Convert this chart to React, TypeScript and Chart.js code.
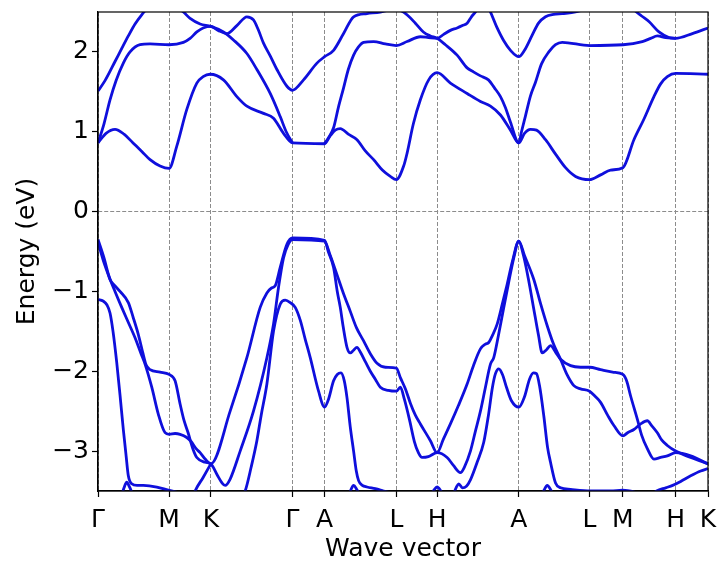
import React, { useEffect, useRef } from "react";
import { Chart, registerables } from "chart.js";

Chart.register(...registerables);

// High-symmetry points along the k-path (path length units)
const kTickValues = [0, 0.71, 1.127, 1.943, 2.263, 2.98, 3.387, 4.203, 4.91, 5.243, 5.77, 6.093];
const kTickLabels = ["Γ", "M", "K", "Γ", "A", "L", "H", "A", "L", "M", "H", "K"];
const energyTicks = [-3, -2, -1, 0, 1, 2];

// Band curves: [k, energy (eV)]
const cbLowest: number[][] = [
  [0, 0.86], [0.08, 0.98], [0.17, 1.03], [0.26, 0.97], [0.35, 0.86], [0.44, 0.75], [0.52, 0.65], [0.62, 0.57], [0.71, 0.54],
  [0.787, 0.82], [0.887, 1.28], [0.987, 1.61], [1.05, 1.69], [1.12, 1.72], [1.253, 1.65], [1.387, 1.44], [1.487, 1.32],
  [1.653, 1.23], [1.753, 1.17], [1.853, 0.98], [1.943, 0.86], [2.263, 0.85], [2.32, 0.95], [2.37, 1.02], [2.42, 1.04],
  [2.5, 0.97], [2.587, 0.9], [2.67, 0.76], [2.753, 0.65], [2.84, 0.52], [2.92, 0.44], [2.98, 0.4], [3.053, 0.57],
  [3.087, 0.73], [3.15, 1.1], [3.22, 1.4], [3.303, 1.65], [3.387, 1.74], [3.52, 1.61], [3.687, 1.48], [3.82, 1.38],
  [3.92, 1.32], [4.02, 1.21], [4.12, 1.02], [4.203, 0.86], [4.26, 0.98], [4.32, 1.03], [4.38, 1.02], [4.47, 0.9],
  [4.57, 0.72], [4.67, 0.55], [4.77, 0.44], [4.91, 0.4], [5.02, 0.46], [5.12, 0.52], [5.243, 0.55], [5.353, 0.9],
  [5.45, 1.15], [5.553, 1.44], [5.62, 1.6], [5.687, 1.69], [5.77, 1.73], [6.093, 1.72],
];

const cbSecond: number[][] = [
  [0, 0.86], [0.06, 1.1], [0.12, 1.4], [0.18, 1.64], [0.253, 1.86], [0.32, 2.0], [0.42, 2.09], [0.52, 2.1], [0.71, 2.09],
  [0.853, 2.12], [0.92, 2.17], [0.987, 2.25], [1.05, 2.3], [1.127, 2.32], [1.2, 2.27], [1.287, 2.23], [1.387, 2.33],
  [1.487, 2.44], [1.553, 2.4], [1.6, 2.28], [1.653, 2.11], [1.72, 1.95], [1.787, 1.78], [1.887, 1.57], [1.943, 1.52],
  [2.053, 1.65], [2.187, 1.86], [2.263, 1.94], [2.353, 2.02], [2.453, 2.23], [2.553, 2.44], [2.687, 2.48], [2.82, 2.5],
  [2.94, 2.53], [3.02, 2.52], [3.1, 2.45], [3.17, 2.36], [3.25, 2.25], [3.32, 2.2], [3.387, 2.17], [3.47, 2.09],
  [3.587, 1.96], [3.687, 1.8], [3.75, 1.75], [3.82, 1.7], [3.9, 1.65], [3.96, 1.55], [4.02, 1.44], [4.07, 1.3],
  [4.12, 1.12], [4.203, 0.86], [4.23, 1.0], [4.27, 1.2], [4.32, 1.45], [4.37, 1.62], [4.43, 1.85], [4.503, 2.0],
  [4.57, 2.09], [4.637, 2.12], [4.91, 2.08], [5.243, 2.09], [5.437, 2.13], [5.52, 2.17], [5.587, 2.2], [5.67, 2.18],
  [5.77, 2.17], [5.937, 2.23], [6.093, 2.3],
];

const cbGammaUpper: number[][] = [
  [0, 1.51], [0.07, 1.64], [0.17, 1.88], [0.24, 2.05], [0.303, 2.2], [0.37, 2.35], [0.44, 2.47], [0.5, 2.56], [0.57, 2.65],
];

const cbKDown: number[][] = [
  [0.67, 2.72], [0.77, 2.58], [0.853, 2.5], [0.92, 2.42], [1.02, 2.35], [1.127, 2.32], [1.253, 2.25], [1.353, 2.15],
  [1.487, 1.98], [1.587, 1.78], [1.72, 1.48], [1.82, 1.19], [1.88, 1.0], [1.943, 0.86],
];

const cbAPlateau: number[][] = [
  [2.263, 0.85], [2.3, 0.92], [2.353, 1.05], [2.4, 1.3], [2.453, 1.55], [2.5, 1.78], [2.553, 1.96], [2.6, 2.06],
  [2.653, 2.12], [2.753, 2.13], [2.87, 2.1], [2.98, 2.08], [3.087, 2.13], [3.22, 2.19], [3.3, 2.18], [3.387, 2.17],
  [3.453, 2.22], [3.52, 2.27], [3.587, 2.3], [3.64, 2.33], [3.687, 2.36], [3.73, 2.44], [3.77, 2.5], [3.82, 2.6],
];

const cbAValley: number[][] = [
  [3.87, 2.62], [3.92, 2.5], [3.98, 2.32], [4.053, 2.14], [4.12, 2.02], [4.203, 1.94], [4.26, 2.02], [4.337, 2.21],
  [4.4, 2.36], [4.47, 2.44], [4.55, 2.47], [4.637, 2.48], [4.77, 2.5], [4.92, 2.56],
];

const cbMHDown: number[][] = [
  [5.22, 2.7], [5.32, 2.58], [5.37, 2.51], [5.43, 2.45], [5.503, 2.38], [5.603, 2.25], [5.703, 2.18], [5.77, 2.17],
];

const vbTop1: number[][] = [
  [0, -0.35], [0.06, -0.58], [0.12, -0.85], [0.17, -0.93], [0.22, -1.0], [0.303, -1.14], [0.35, -1.32], [0.403, -1.54],
  [0.45, -1.78], [0.48, -1.92], [0.52, -1.98], [0.62, -2.01], [0.71, -2.04], [0.77, -2.12], [0.82, -2.41], [0.86, -2.62],
  [0.9, -2.77], [0.95, -2.98], [0.987, -3.08], [1.07, -3.14], [1.127, -3.16], [1.187, -3.29], [1.24, -3.4], [1.27, -3.43],
  [1.32, -3.35], [1.42, -3.0], [1.553, -2.5], [1.687, -1.83], [1.753, -1.41], [1.803, -0.95], [1.853, -0.58],
  [1.9, -0.41], [1.943, -0.35], [2.263, -0.37], [2.32, -0.55], [2.387, -0.79], [2.45, -1.02], [2.52, -1.25],
  [2.58, -1.45], [2.653, -1.62], [2.72, -1.78], [2.787, -1.9], [2.87, -1.95], [2.98, -1.96], [3.02, -2.08],
  [3.07, -2.22], [3.12, -2.4], [3.17, -2.55], [3.22, -2.66], [3.32, -2.87], [3.387, -3.02], [3.45, -2.85],
  [3.52, -2.66], [3.6, -2.43], [3.687, -2.16], [3.75, -1.93], [3.82, -1.72], [3.87, -1.66], [3.903, -1.64],
  [3.94, -1.55], [3.987, -1.41], [4.04, -1.15], [4.087, -0.91], [4.14, -0.62], [4.203, -0.37], [4.25, -0.55],
  [4.3, -0.85], [4.35, -1.2], [4.4, -1.55], [4.437, -1.77], [4.48, -1.73], [4.52, -1.68], [4.57, -1.76], [4.62, -1.85],
  [4.72, -1.93], [4.82, -1.95], [4.91, -1.95], [5.02, -1.98], [5.14, -2.01], [5.243, -2.04], [5.28, -2.12],
  [5.32, -2.31], [5.387, -2.6], [5.43, -2.8], [5.487, -2.97], [5.553, -3.1], [5.62, -3.08], [5.687, -3.06],
  [5.77, -3.02], [5.92, -3.06], [6.093, -3.16],
];

const vbTop2: number[][] = [
  [0, -0.38], [0.05, -0.6], [0.103, -0.79], [0.17, -1.0], [0.237, -1.2], [0.3, -1.38], [0.37, -1.58], [0.43, -1.78],
  [0.47, -1.91], [0.537, -2.2], [0.603, -2.54], [0.67, -2.77], [0.71, -2.79], [0.77, -2.78], [0.82, -2.79],
  [0.887, -2.83], [0.93, -2.88], [0.98, -2.97], [1.02, -3.02], [1.07, -3.1], [1.127, -3.16], [1.32, -2.5],
  [1.487, -1.83], [1.62, -1.2], [1.687, -1.02], [1.73, -0.96], [1.77, -0.93], [1.82, -0.7], [1.887, -0.41],
  [1.943, -0.33], [2.263, -0.36], [2.3, -0.5], [2.353, -0.7], [2.39, -1.0], [2.42, -1.2], [2.45, -1.45], [2.487, -1.7],
  [2.52, -1.77], [2.55, -1.74], [2.587, -1.7], [2.62, -1.76], [2.67, -1.88], [2.72, -2.0], [2.77, -2.1], [2.82, -2.2],
  [2.9, -2.24], [2.98, -2.25], [3.02, -2.2], [3.06, -2.35], [3.11, -2.6], [3.16, -2.88], [3.2, -3.02], [3.237, -3.08],
  [3.3, -3.07], [3.387, -3.02], [3.487, -3.08], [3.55, -3.18], [3.62, -3.27], [3.66, -3.2], [3.72, -3.0],
  [3.77, -2.75], [3.82, -2.5], [3.87, -2.2], [3.92, -1.91], [3.953, -1.83], [4.0, -1.55], [4.053, -1.2], [4.1, -0.9],
  [4.153, -0.58], [4.203, -0.37], [4.26, -0.55], [4.353, -0.85], [4.42, -1.15], [4.487, -1.43], [4.55, -1.66],
  [4.62, -1.85], [4.68, -2.03], [4.753, -2.18], [4.82, -2.22], [4.91, -2.25], [4.97, -2.32], [5.02, -2.39],
  [5.09, -2.55], [5.153, -2.68], [5.243, -2.81], [5.29, -2.77], [5.353, -2.73], [5.42, -2.66], [5.487, -2.62],
  [5.53, -2.68], [5.587, -2.77], [5.63, -2.86], [5.687, -2.93], [5.77, -3.0], [5.92, -3.08], [6.093, -3.16],
];

const vbKCross: number[][] = [
  [0.92, -3.68], [0.97, -3.5], [1.05, -3.33], [1.127, -3.16],
];

const vbGammaLow: number[][] = [
  [0, -1.1], [0.05, -1.12], [0.09, -1.17], [0.12, -1.27], [0.15, -1.5], [0.187, -1.89], [0.22, -2.3], [0.253, -2.73],
  [0.28, -3.05], [0.303, -3.31], [0.337, -3.41], [0.39, -3.43], [0.453, -3.43], [0.587, -3.45], [0.703, -3.49],
  [0.8, -3.52], [0.92, -3.56],
];

const vbMidLow: number[][] = [
  [1.4, -3.65], [1.47, -3.5], [1.53, -3.2], [1.587, -2.87], [1.63, -2.55], [1.687, -2.16], [1.753, -1.5], [1.82, -1.16],
  [1.87, -1.11], [1.92, -1.14], [1.97, -1.2], [2.02, -1.36], [2.07, -1.6], [2.12, -1.83], [2.203, -2.25], [2.263, -2.45],
  [2.3, -2.36], [2.353, -2.12], [2.39, -2.04], [2.427, -2.02], [2.46, -2.12], [2.487, -2.33], [2.52, -2.7],
  [2.553, -3.0], [2.58, -3.25], [2.603, -3.37], [2.64, -3.43], [2.687, -3.45], [2.77, -3.47], [2.853, -3.5],
  [2.94, -3.53], [3.02, -3.57],
];

const vbRightLow: number[][] = [
  [3.54, -3.58], [3.58, -3.45], [3.603, -3.41], [3.64, -3.46], [3.68, -3.44], [3.72, -3.36], [3.787, -3.14],
  [3.853, -2.89], [3.9, -2.55], [3.94, -2.2], [3.97, -2.03], [4.003, -1.97], [4.04, -2.04], [4.08, -2.2], [4.13, -2.37],
  [4.203, -2.45], [4.26, -2.32], [4.31, -2.1], [4.35, -2.02], [4.38, -2.03], [4.41, -2.18], [4.453, -2.56],
  [4.49, -2.95], [4.52, -3.14], [4.57, -3.4], [4.62, -3.46], [4.72, -3.48], [4.92, -3.5], [5.12, -3.5], [5.24, -3.49],
  [5.42, -3.53],
];

const vbBump1: number[][] = [[0.23, -3.58], [0.26, -3.46], [0.287, -3.39], [0.315, -3.45], [0.34, -3.52]];
const vbBump2: number[][] = [[2.49, -3.58], [2.52, -3.5], [2.553, -3.43], [2.585, -3.48], [2.62, -3.56]];
const vbBump3: number[][] = [[3.32, -3.56], [3.355, -3.49], [3.387, -3.45], [3.42, -3.49], [3.45, -3.56]];
const vbBump4: number[][] = [[4.42, -3.58], [4.455, -3.49], [4.487, -3.43], [4.52, -3.48], [4.55, -3.56]];
const vbRightRise: number[][] = [
  [5.5, -3.58], [5.58, -3.5], [5.67, -3.46], [5.74, -3.43], [5.82, -3.38], [5.92, -3.31], [6.02, -3.25], [6.093, -3.22],
];

const bands = [
  cbLowest, cbSecond, cbGammaUpper, cbKDown, cbAPlateau, cbAValley, cbMHDown,
  vbTop1, vbTop2, vbKCross, vbGammaLow, vbMidLow, vbRightLow,
  vbBump1, vbBump2, vbBump3, vbBump4, vbRightRise,
];

const BAND_COLOR = "#0f0fdc";
const FONT = "'DejaVu Sans', sans-serif";

const framePlugin = {
  id: "frame",
  afterDraw(chart: any) {
    const { ctx, chartArea } = chart;
    ctx.save();
    ctx.strokeStyle = "#000";
    ctx.lineWidth = 1.2;
    ctx.strokeRect(chartArea.left, chartArea.top, chartArea.right - chartArea.left, chartArea.bottom - chartArea.top);
    ctx.restore();
  },
};

export default function App() {
  const canvasRef = useRef<HTMLCanvasElement | null>(null);

  useEffect(() => {
    if (!canvasRef.current) return;
    const chart = new Chart(canvasRef.current, {
      type: "line",
      data: {
        datasets: bands.map((b) => ({
          data: b.map(([x, y]) => ({ x, y })),
          borderColor: BAND_COLOR,
          borderWidth: 2.8,
          pointRadius: 0,
          fill: false,
          cubicInterpolationMode: "monotone" as const,
        })),
      },
      options: {
        responsive: false,
        animation: false,
        events: [],
        layout: { padding: { top: 12, right: 12, left: 0, bottom: 0 } },
        plugins: { legend: { display: false }, tooltip: { enabled: false } },
        scales: {
          x: {
            type: "linear",
            min: kTickValues[0],
            max: kTickValues[kTickValues.length - 1],
            afterBuildTicks: (scale: any) => {
              scale.ticks = kTickValues.map((v) => ({ value: v }));
            },
            afterFit: (scale: any) => {
              scale.height = 73;
              scale.paddingLeft = 0;
              scale.paddingRight = 0;
            },
            ticks: {
              autoSkip: false,
              maxRotation: 0,
              padding: 8,
              color: "#000",
              font: { family: FONT, size: 25 },
              callback: (v: any, i: number) => kTickLabels[i],
            },
            grid: {
              color: "#8c8c8c",
              lineWidth: 1,
              tickColor: "#000",
              tickLength: 6,
              tickWidth: 1.2,
            },
            border: { display: true, color: "#000", width: 1.2, dash: [4, 2] },
            title: {
              display: true,
              text: "Wave vector",
              color: "#000",
              font: { family: FONT, size: 25 },
              padding: { top: 0, bottom: 0 },
            },
          },
          y: {
            type: "linear",
            min: -3.5,
            max: 2.5,
            afterBuildTicks: (scale: any) => {
              scale.ticks = energyTicks.map((v) => ({ value: v }));
            },
            afterFit: (scale: any) => {
              scale.width = 98;
              scale.paddingTop = 0;
              scale.paddingBottom = 0;
            },
            ticks: {
              padding: 3,
              color: "#000",
              font: { family: FONT, size: 25 },
              callback: (v: any) => (Number(v) < 0 ? "\u2212" + Math.abs(Number(v)) : String(v)),
            },
            grid: {
              color: (ctx: any) => (ctx.tick && ctx.tick.value === 0 ? "#8c8c8c" : "rgba(0,0,0,0)"),
              lineWidth: 1,
              tickColor: "#000",
              tickLength: 6,
              tickWidth: 1.2,
            },
            border: { display: true, color: "#000", width: 1.2, dash: [4, 2] },
            title: {
              display: true,
              text: "Energy (eV)",
              color: "#000",
              font: { family: FONT, size: 25 },
              padding: { top: 12, bottom: 0 },
            },
          },
        },
      },
      plugins: [framePlugin],
    });
    return () => chart.destroy();
  }, []);

  return (
    <div style={{ position: "absolute", left: 0, top: 0, width: 720, height: 564, background: "#fff" }}>
      <canvas ref={canvasRef} width={720} height={564} style={{ display: "block", width: 720, height: 564 }} />
    </div>
  );
}
